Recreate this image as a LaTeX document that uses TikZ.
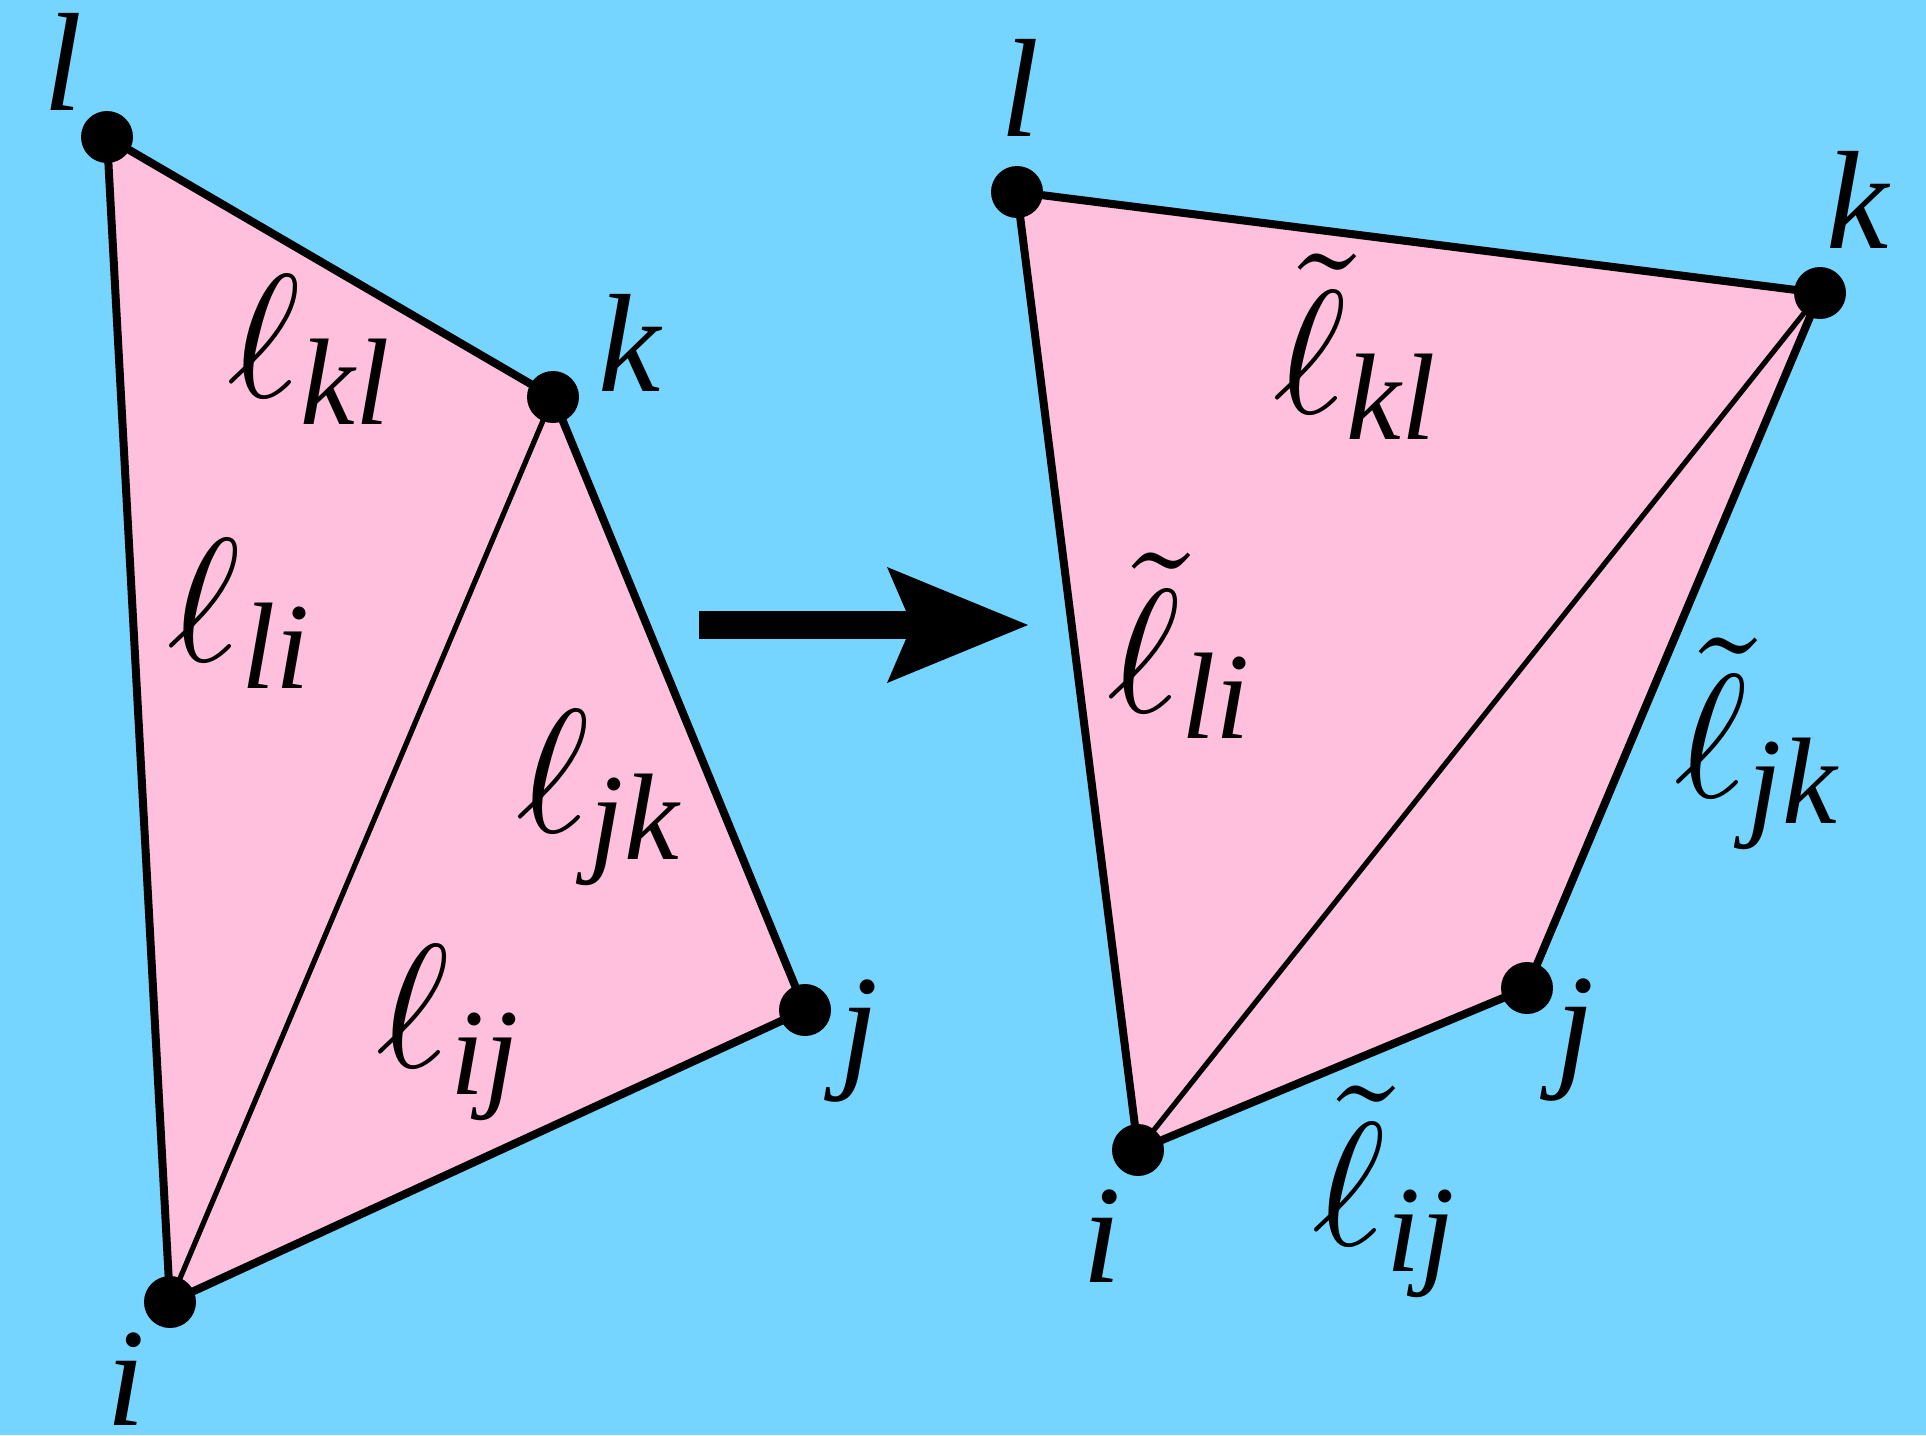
\documentclass[tikz,border=0pt]{standalone}
\usepackage{fontspec}
\setmainfont{Liberation Serif}
\usepackage{tikz}
\usepackage{xcolor}
\usetikzlibrary{arrows.meta}
\definecolor{skyblue}{HTML}{75D5FE}
\definecolor{meshpink}{HTML}{FFC0DD}
\pgfdeclarelayer{back}
\pgfsetlayers{back,main}
\newcommand{\tell}{\rlap{\raisebox{-0.03em}{$\kern0.1em\tilde{\phantom{\ell}}$}}\ell}
\tikzset{
        vert_dot/.style={circle, fill=black, minimum size=13pt, inner sep=0pt},
        edge_thick/.style={line width=2pt, draw=black},
        edge_thin/.style={line width=1.3pt, draw=black},
        face_fill/.style={fill=meshpink},
        vert_text/.style={inner sep=0pt, scale=3.5},
        len_text/.style={inner sep=0pt, scale=4.4},
        tlen_text/.style={len_text, anchor=base},
        map_arrow/.style={line width=7pt, draw=black,
                          -{Stealth[length=35.25pt, width=29pt, inset=6.25pt, line width=0pt]}}
    }

\begin{document}
\begin{tikzpicture}[x=0.25pt, y=-0.25pt]
    \begin{pgfonlayer}{back}
        \fill[skyblue] (0,0) rectangle (1926,1435);
    \end{pgfonlayer}
    \begin{scope}
        \node[vert_dot] (ll) at (107,137) {};
        \node[vert_dot] (lk) at (553,397) {};
        \node[vert_dot] (lj) at (805,1010) {};
        \node[vert_dot] (li) at (170,1302) {};
        \begin{pgfonlayer}{back}
            \fill[face_fill] (ll.center) -- (lk.center) -- (lj.center) -- (li.center) -- cycle;
            \draw[edge_thick] (ll.center) -- (lk.center) -- (lj.center) -- (li.center) -- cycle;
            \draw[edge_thin] (li.center) -- (lk.center);
        \end{pgfonlayer}
        \node[vert_text] (ll_name) at (63,62) {$\mathit{l}$};
        \node[vert_text] (lk_name) at (630,343) {$\mathit{k}$};
        \node[vert_text] (lj_name) at (859,1041) {$\mathit{j}$};
        \node[vert_text] (li_name) at (126,1379) {$\mathit{i}$};
        \node[len_text] (lkl_len) at (313,350) {$\ell_{\mathit{kl}}$};
        \node[len_text] (lli_len) at (243,614) {$\ell_{\mathit{li}}$};
        \node[len_text] (ljk_len) at (602,798) {$\ell_{\mathit{jk}}$};
        \node[len_text] (lij_len) at (452,1033) {$\ell_{\mathit{ij}}$};
    \end{scope}
    \coordinate (map_from) at (699,625);
    \coordinate (map_to) at (1028,625);
    \draw[map_arrow] (map_from) -- (map_to);
    \begin{scope}
        \node[vert_dot] (rl) at (1017,192) {};
        \node[vert_dot] (rk) at (1820,293) {};
        \node[vert_dot] (rj) at (1527,988) {};
        \node[vert_dot] (ri) at (1138,1150) {};
        \begin{pgfonlayer}{back}
            \fill[face_fill] (rl.center) -- (rk.center) -- (rj.center) -- (ri.center) -- cycle;
            \draw[edge_thick] (rl.center) -- (rk.center) -- (rj.center) -- (ri.center) -- cycle;
            \draw[edge_thin] (ri.center) -- (rk.center);
        \end{pgfonlayer}
        \node[vert_text] (rl_name) at (1020,88) {$\mathit{l}$};
        \node[vert_text] (rk_name) at (1858,200) {$\mathit{k}$};
        \node[vert_text] (rj_name) at (1575,1040) {$\mathit{j}$};
        \node[vert_text] (ri_name) at (1102,1236) {$\mathit{i}$};
        \node[tlen_text] (rkl_len) at (1359,413) {$\tell_{\mathit{kl}}$};
        \node[tlen_text] (rli_len) at (1183,712) {$\tell_{\mathit{li}}$};
        \node[tlen_text] (rjk_len) at (1760,797) {$\tell_{\mathit{jk}}$};
        \node[tlen_text] (rij_len) at (1388,1245) {$\tell_{\mathit{ij}}$};
    \end{scope}
\end{tikzpicture}
\end{document}
